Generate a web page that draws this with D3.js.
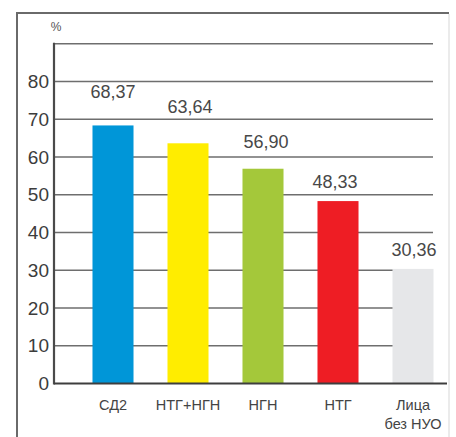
<!DOCTYPE html>
<html>
<head>
<meta charset="utf-8">
<script src="https://cdn.jsdelivr.net/npm/d3@7"></script>
<style>
  html, body { margin: 0; padding: 0; background: #fff; }
  svg { display: block; font-family: "Liberation Sans", Arial, sans-serif; }
</style>
</head>
<body>
<svg id="chart" width="456" height="437"></svg>
<script>
// Доля лиц по группам нарушений углеводного обмена, %
const categories = ["СД2", "НТГ+НГН", "НГН", "НТГ", "Лица\nбез НУО"];
const values = [68.37, 63.64, 56.90, 48.33, 30.36];
const valueLabels = ["68,37", "63,64", "56,90", "48,33", "30,36"];
const barColors = ["#0096d8", "#ffed00", "#a4c83a", "#ee1d24", "#e6e7e9"];
const yTicks = [0, 10, 20, 30, 40, 50, 60, 70, 80, 90];
const yTickLabels = ["0", "10", "20", "30", "40", "50", "60", "70", "80", ""];

// vertical lift of each value caption above its bar, px
const labelLift = [27, 30, 21, 13, 13];
// horizontal nudge of each value caption, px
const labelShift = [0, 2, 3, -3, 1];

const svg = d3.select("#chart");

// outer frame
svg.append("line").attr("x1", 17).attr("x2", 17).attr("y1", 13).attr("y2", 437)
  .attr("stroke", "#6a6a6a").attr("stroke-width", 2);
svg.append("line").attr("x1", 16).attr("x2", 449).attr("y1", 13).attr("y2", 13)
  .attr("stroke", "#6a6a6a").attr("stroke-width", 2);
svg.append("line").attr("x1", 449).attr("x2", 449).attr("y1", 14).attr("y2", 437)
  .attr("stroke", "#ebebeb").attr("stroke-width", 2);

const x0 = 54, gridRight = 433, baseRight = 447;

const y = d3.scaleLinear().domain([0, 90]).range([383.5, 43.8]);
const x = d3.scaleBand().domain(categories)
  .range([75.5, 450.5]).paddingInner(0.453).paddingOuter(0.2265);

// gridlines
svg.append("g").selectAll("line")
  .data(yTicks.filter(t => t > 0))
  .join("line")
  .attr("x1", x0).attr("x2", gridRight)
  .attr("y1", d => y(d)).attr("y2", d => y(d))
  .attr("stroke", "#6e6e6e").attr("stroke-width", 1.6);

// bars
svg.append("g").selectAll("rect")
  .data(values)
  .join("rect")
  .attr("x", (d, i) => x(categories[i]))
  .attr("width", x.bandwidth())
  .attr("y", d => y(d))
  .attr("height", d => y(0) - y(d))
  .attr("fill", (d, i) => barColors[i]);

// y axis
const yAxis = d3.axisLeft(y).tickValues(yTicks)
  .tickFormat((d, i) => yTickLabels[i]).tickSize(0).tickPadding(5);
const gy = svg.append("g").attr("transform", `translate(${x0},0)`).call(yAxis);
gy.select(".domain").remove();
gy.selectAll("text").attr("font-size", 19).attr("fill", "#3c3c3c")
  .attr("font-family", "Liberation Sans, Arial, sans-serif");

svg.append("line").attr("x1", x0).attr("x2", x0).attr("y1", y(90) - 1).attr("y2", y(0) + 1)
  .attr("stroke", "#4a4a4a").attr("stroke-width", 2.2);
svg.append("line").attr("x1", x0).attr("x2", baseRight).attr("y1", y(0)).attr("y2", y(0))
  .attr("stroke", "#3e3e3e").attr("stroke-width", 2);

// unit
svg.append("text").attr("x", 56).attr("y", 31).attr("text-anchor", "middle")
  .attr("font-size", 12).attr("fill", "#555").text("%");

// value captions
svg.append("g").selectAll("text")
  .data(values)
  .join("text")
  .attr("x", (d, i) => x(categories[i]) + x.bandwidth() / 2 + labelShift[i])
  .attr("y", (d, i) => y(d) - labelLift[i])
  .attr("text-anchor", "middle")
  .attr("font-size", 18).attr("fill", "#484848")
  .text((d, i) => valueLabels[i]);

// category labels
const cat = svg.append("g").selectAll("text")
  .data(categories)
  .join("text")
  .attr("text-anchor", "middle")
  .attr("font-size", 14.5).attr("fill", "#444")
  .attr("transform", d => `translate(${x(d) + x.bandwidth() / 2},${y(0) + 26})`);
cat.each(function(d) {
  const lines = d.split("\n");
  d3.select(this).selectAll("tspan").data(lines).join("tspan")
    .attr("x", 0).attr("dy", (l, j) => j === 0 ? 0 : 19).text(l => l);
});
</script>
</body>
</html>
